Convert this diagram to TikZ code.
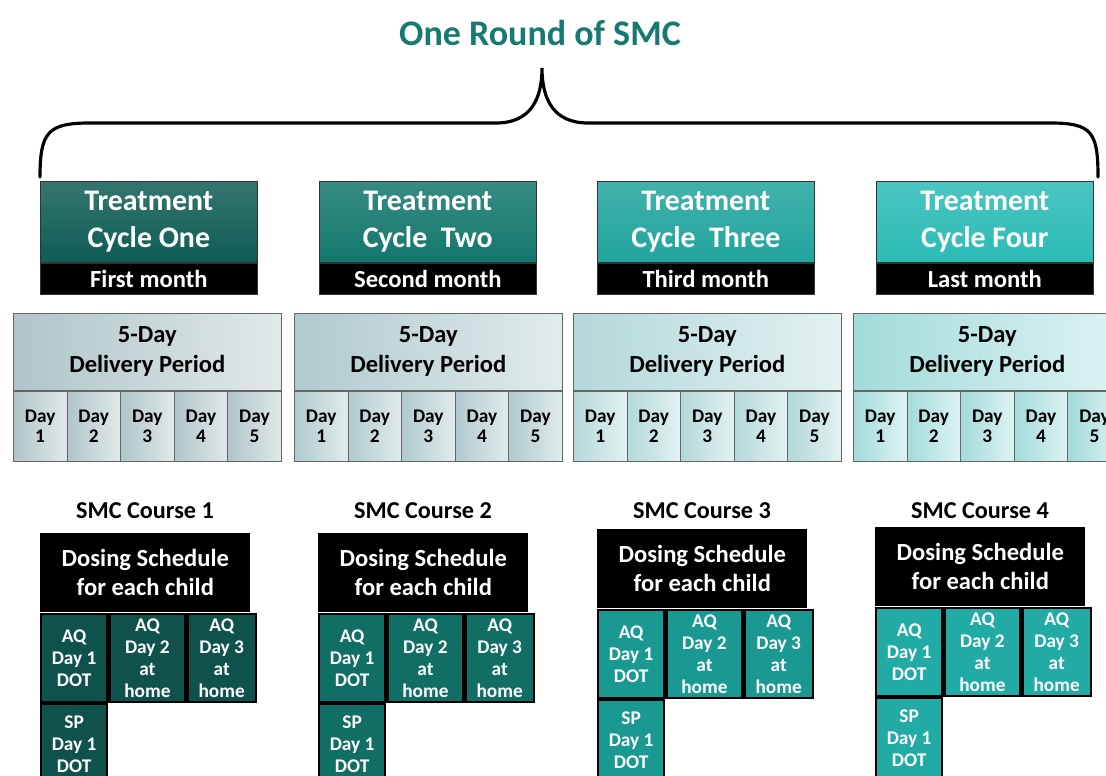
\documentclass[tikz,border=0pt]{standalone}
\usepackage{fontspec}
\setmainfont{Carlito}
\usetikzlibrary{positioning}
\definecolor{mtitle}{HTML}{177A70}
\definecolor{tc1}{HTML}{0F5D55}
\definecolor{tc2}{HTML}{13776D}
\definecolor{tc3}{HTML}{20A49D}
\definecolor{tc4}{HTML}{2BBBB5}
\definecolor{dc1}{HTML}{0E524B}
\definecolor{dc2}{HTML}{106E65}
\definecolor{dc3}{HTML}{1A9993}
\definecolor{dc4}{HTML}{22ABA5}
\definecolor{pl1}{HTML}{AFC5C8}
\definecolor{pr1}{HTML}{E1E9EA}
\definecolor{pl2}{HTML}{B0CACD}
\definecolor{pr2}{HTML}{E1EBEC}
\definecolor{pl3}{HTML}{B3D8D9}
\definecolor{pr3}{HTML}{E3F1F1}
\definecolor{pl4}{HTML}{A2DBD9}
\definecolor{pr4}{HTML}{DDF3F2}
\tikzset{ttl/.style = {text=mtitle, font=\bfseries\fontsize{20.5}{24}\selectfont}}
\tikzset{brace/.style = {line width=1.8pt, line cap=round}}
\tikzset{cyc/.style = {draw=black!80, anchor=north west, inner sep=0, align=center, text=white,
                       minimum width=4.34cm, minimum height=1.62cm,
                       font=\bfseries\fontsize{17}{21}\selectfont}}
\tikzset{mon/.style = {draw=black!80, fill=black, inner sep=0, text=white,
                       minimum width=4.34cm, minimum height=0.62cm,
                       font=\bfseries\fontsize{14}{16}\selectfont}}
\tikzset{dlv/.style = {draw=black!60, anchor=north west, inner sep=0, align=center,
                       minimum width=5.36cm, minimum height=1.54cm,
                       font=\bfseries\fontsize{14}{17}\selectfont}}
\tikzset{dayc/.style = {draw=black!60, anchor=north west, inner sep=0, align=center,
                        minimum width=1.072cm, minimum height=1.4cm,
                        font=\bfseries\fontsize{11}{11.4}\selectfont}}
\tikzset{crs/.style = {font=\bfseries\fontsize{13.8}{16}\selectfont}}
\tikzset{dose/.style = {fill=black, anchor=north west, inner sep=0, align=center, text=white,
                        minimum width=4.2cm, minimum height=1.58cm,
                        font=\bfseries\fontsize{14}{16.5}\selectfont}}
\tikzset{cell/.style = {draw=black, line width=1.3pt, inner sep=0, align=center, text=white,
                        minimum height=1.76cm,
                        font=\bfseries\fontsize{11}{12.5}\selectfont}}

\begin{document}
\begin{tikzpicture}[x=0.02cm, y=-0.02cm]
  \useasboundingbox (0,0) rectangle (1106,776);
  \clip (0,0) rectangle (1106,776);
  \node [ttl] (title) at (540,33) {One Round of SMC};
  \coordinate (bl) at (40,177);
  \coordinate (bp) at (542,68);
  \coordinate (br) at (1098,177);
  \draw [brace] (bl) .. controls (40,132) and (48,123) .. (90,123) -- (496,123)
    .. controls (530,123) and (542,100) .. (bp)
    .. controls (542,100) and (554,123) .. (588,123) -- (1050,123)
    .. controls (1092,123) and (1098,132) .. (br);
  \foreach \i/\tx/\px/\sx/\sy/\nm/\mo in {1/40/13/40/533/One/First,
      2/319/294/318/533/~Two/Second, 3/597/573/597/529/~Three/Third,
      4/876/853/875/527/Four/Last}{
    % treatment cycle
    \node [cyc, top color=tc\i!85!white, bottom color=tc\i] (t\i) at (\tx,181) {Treatment\\Cycle \nm};
    \node [mon, below=0pt of t\i] (m\i) {\mo\ month};
    % delivery period
    \node [dlv, left color=pl\i, right color=pr\i] (p\i) at (\px,313) {5-Day\\Delivery Period};
    \foreach \d in {1,...,5}{
      \node [dayc, left color=pl\i, right color=pr\i, xshift={(\d-1)*1.072cm}] (p\i-\d) at (p\i.south west) {Day\\\d};
    }
    % dosing
    \node [crs] (s\i) at (\sx+105,511) {SMC Course \i};
    \node [dose] (d\i) at (\sx,\sy) {Dosing Schedule\\for each child};
    \node [cell, fill=dc\i, minimum width=1.32cm, below right=0pt and 0pt of d\i.south west] (a\i-1) {AQ\\Day 1\\DOT};
    \node [cell, fill=dc\i, minimum width=1.52cm, right=0pt of a\i-1] (a\i-2) {AQ\\Day 2\\at\\home};
    \node [cell, fill=dc\i, minimum width=1.36cm, right=0pt of a\i-2] (a\i-3) {AQ\\Day 3\\at\\home};
    \node [cell, fill=dc\i, minimum width=1.32cm, minimum height=1.6cm, below=0pt of a\i-1] (sp\i) {SP\\Day 1\\DOT};
  }
\end{tikzpicture}
\end{document}
